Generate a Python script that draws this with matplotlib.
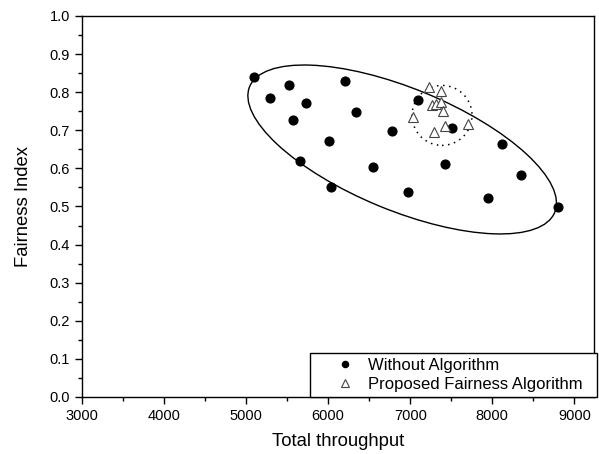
import numpy as np
import matplotlib
matplotlib.use("Agg")
import matplotlib.pyplot as plt
from matplotlib.patches import Ellipse
from matplotlib.transforms import ScaledTranslation
from matplotlib.ticker import MultipleLocator

# Throughput / fairness samples
without_x = [5093, 5288, 5523, 5572, 5726, 5653, 6010, 6030, 6209, 6335,
             6550, 6773, 6971, 7093, 7421, 7515, 7953, 8115, 8351, 8805]
without_y = [0.841, 0.784, 0.819, 0.726, 0.771, 0.619, 0.672, 0.552, 0.829, 0.749,
             0.603, 0.699, 0.539, 0.779, 0.612, 0.707, 0.523, 0.664, 0.583, 0.499]

proposed_x = [7227, 7369, 7268, 7320, 7378, 7397, 7037, 7426, 7284, 7701]
proposed_y = [0.813, 0.804, 0.766, 0.769, 0.775, 0.751, 0.736, 0.712, 0.695, 0.716]

plt.rcParams['font.family'] = ['Liberation Sans', 'DejaVu Sans']

fig = plt.figure(figsize=(5.99, 4.54), dpi=100)
ax = fig.add_axes([0.1369, 0.1256, 0.8548, 0.8392])

ax.plot(without_x, without_y, 'o', color='black', markersize=6.3,
        label='Without Algorithm', zorder=3)
ax.plot(proposed_x, proposed_y, '^', markerfacecolor='white', markeredgecolor='#444444',
        markeredgewidth=0.8, markersize=7.5, label='Proposed Fairness Algorithm', zorder=4)

# cluster outlines: centre in data units, size in inches
big = Ellipse((0, 0), 3.30, 1.22, angle=-22.4, fill=False, edgecolor='black', lw=1.0,
              transform=fig.dpi_scale_trans + ScaledTranslation(6902, 0.6496, ax.transData))
ax.add_patch(big)
small = Ellipse((0, 0), 0.60, 0.60, fill=False, edgecolor='black', lw=1.1,
                linestyle=(0, (1, 3)),
                transform=fig.dpi_scale_trans + ScaledTranslation(7387, 0.739, ax.transData))
ax.add_patch(small)

ax.set_xlim(3000, 9240)
ax.set_ylim(0.0, 1.0)
ax.xaxis.set_major_locator(MultipleLocator(1000))
ax.xaxis.set_minor_locator(MultipleLocator(500))
ax.yaxis.set_major_locator(MultipleLocator(0.1))
ax.yaxis.set_minor_locator(MultipleLocator(0.05))
ax.yaxis.set_major_formatter(plt.FormatStrFormatter('%.1f'))
ax.tick_params(which='major', direction='out', length=5, width=1, labelsize=10.5)
ax.tick_params(which='minor', direction='out', length=3, width=1)
for s in ax.spines.values():
    s.set_linewidth(1.0)

ax.set_xlabel('Total throughput', fontsize=13.3, labelpad=7)
ax.set_ylabel('Fairness Index', fontsize=13.3, labelpad=13)

# legend box sticks out a little past the right spine, like the original
leg = ax.legend(loc='lower left', bbox_to_anchor=(0.4453, 0.0, 0.5607, 0.116),
                mode='expand', borderaxespad=0,
                fontsize=12, frameon=True, fancybox=False, framealpha=1,
                edgecolor='black', markerscale=0.7, handlelength=3.6,
                handletextpad=-0.45, borderpad=0.3, labelspacing=0.25)
leg.get_frame().set_linewidth(1.0)

fig.savefig('out.png', dpi=100)
